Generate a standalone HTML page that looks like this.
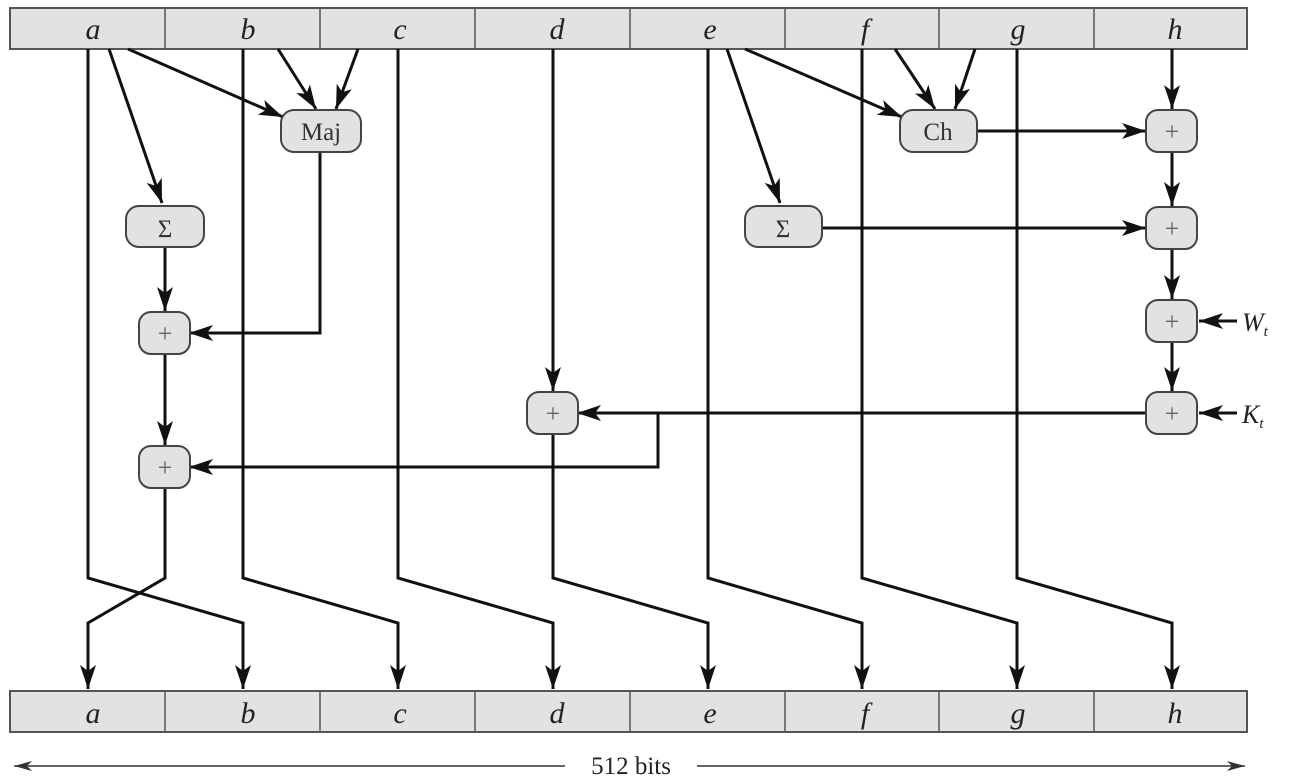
<!DOCTYPE html>
<html><head><style>
html,body{margin:0;padding:0;background:#fff;}
svg{display:block}
text{font-family:"Liberation Serif",serif;}
</style></head><body>
<svg width="1312" height="780" viewBox="0 0 1312 780" xmlns="http://www.w3.org/2000/svg">
<defs>
<marker id="a2" viewBox="0 0 24 16" markerWidth="24" markerHeight="16" refX="24" refY="8" orient="auto" markerUnits="userSpaceOnUse">
<path d="M0,0 L24,8 L0,16 L6,8 z" fill="#111"/>
</marker>
<marker id="a3" viewBox="0 0 18 10" markerWidth="18" markerHeight="10" refX="0" refY="5" orient="auto" markerUnits="userSpaceOnUse">
<path d="M18,0 L0,5 L18,10 L13,5 z" fill="#333"/>
</marker>
<marker id="a4" viewBox="0 0 18 10" markerWidth="18" markerHeight="10" refX="18" refY="5" orient="auto" markerUnits="userSpaceOnUse">
<path d="M0,0 L18,5 L0,10 L5,5 z" fill="#333"/>
</marker>
</defs>
<g stroke="#555" stroke-width="2" fill="#e2e2e2">
<rect x="10" y="8" width="1237" height="41"/>
<rect x="10" y="691" width="1237" height="41"/>
</g>
<g stroke="#555" stroke-width="1.5">
<line x1="165" y1="8" x2="165" y2="49"/><line x1="320" y1="8" x2="320" y2="49"/><line x1="475" y1="8" x2="475" y2="49"/><line x1="630" y1="8" x2="630" y2="49"/><line x1="785" y1="8" x2="785" y2="49"/><line x1="939" y1="8" x2="939" y2="49"/><line x1="1094" y1="8" x2="1094" y2="49"/>
<line x1="165" y1="691" x2="165" y2="732"/><line x1="320" y1="691" x2="320" y2="732"/><line x1="475" y1="691" x2="475" y2="732"/><line x1="630" y1="691" x2="630" y2="732"/><line x1="785" y1="691" x2="785" y2="732"/><line x1="939" y1="691" x2="939" y2="732"/><line x1="1094" y1="691" x2="1094" y2="732"/>
</g>
<g font-size="30" font-style="italic" fill="#222" text-anchor="middle">
<text x="93" y="39">a</text><text x="248" y="39">b</text><text x="400" y="39">c</text><text x="557" y="39">d</text><text x="710" y="39">e</text><text x="865" y="39">f</text><text x="1018" y="39">g</text><text x="1175" y="39">h</text>
<text x="93" y="723">a</text><text x="248" y="723">b</text><text x="400" y="723">c</text><text x="557" y="723">d</text><text x="710" y="723">e</text><text x="865" y="723">f</text><text x="1018" y="723">g</text><text x="1175" y="723">h</text>
</g>
<g stroke="#111" stroke-width="3" fill="none" stroke-linejoin="miter">
<polyline points="88,49 88,578 243,623 243,689" marker-end="url(#a2)"/>
<polyline points="243,49 243,578 398,623 398,689" marker-end="url(#a2)"/>
<polyline points="398,49 398,578 553,623 553,689" marker-end="url(#a2)"/>
<polyline points="553,434 553,578 708,623 708,689" marker-end="url(#a2)"/>
<polyline points="708,49 708,578 862,623 862,689" marker-end="url(#a2)"/>
<polyline points="862,49 862,578 1017,623 1017,689" marker-end="url(#a2)"/>
<polyline points="1017,49 1017,578 1172,623 1172,689" marker-end="url(#a2)"/>
<polyline points="165,488 165,578 88,623 88,689" marker-end="url(#a2)"/>
<line x1="553" y1="49" x2="553" y2="391" marker-end="url(#a2)"/>
<line x1="109" y1="49" x2="162" y2="203" marker-end="url(#a2)"/>
<line x1="128" y1="49" x2="283" y2="117" marker-end="url(#a2)"/>
<line x1="278" y1="49" x2="316" y2="109" marker-end="url(#a2)"/>
<line x1="358" y1="49" x2="336" y2="109" marker-end="url(#a2)"/>
<line x1="727" y1="49" x2="780" y2="203" marker-end="url(#a2)"/>
<line x1="745" y1="49" x2="902" y2="117" marker-end="url(#a2)"/>
<line x1="895" y1="49" x2="935" y2="109" marker-end="url(#a2)"/>
<line x1="975" y1="49" x2="955" y2="109" marker-end="url(#a2)"/>
<polyline points="320,152 320,333 189,333" marker-end="url(#a2)"/>
<line x1="165" y1="247" x2="165" y2="311" marker-end="url(#a2)"/>
<line x1="165" y1="355" x2="165" y2="445" marker-end="url(#a2)"/>
<line x1="1172" y1="49" x2="1172" y2="109" marker-end="url(#a2)"/>
<line x1="1172" y1="152" x2="1172" y2="206" marker-end="url(#a2)"/>
<line x1="1172" y1="249" x2="1172" y2="299" marker-end="url(#a2)"/>
<line x1="1172" y1="342" x2="1172" y2="391" marker-end="url(#a2)"/>
<line x1="977" y1="131" x2="1146" y2="131" marker-end="url(#a2)"/>
<line x1="822" y1="228" x2="1146" y2="228" marker-end="url(#a2)"/>
<line x1="1237" y1="321" x2="1199" y2="321" marker-end="url(#a2)"/>
<line x1="1237" y1="413" x2="1199" y2="413" marker-end="url(#a2)"/>
<line x1="1146" y1="413" x2="577" y2="413" marker-end="url(#a2)"/>
<polyline points="658,413 658,467 189,467" marker-end="url(#a2)"/>
</g>
<g stroke="#444" stroke-width="2" fill="#e2e2e2">
<rect x="281" y="110" width="80" height="42" rx="13"/>
<rect x="126" y="206" width="78" height="41" rx="13"/>
<rect x="900" y="110" width="77" height="42" rx="13"/>
<rect x="745" y="206" width="77" height="41" rx="13"/>
<rect x="139" y="312" width="51" height="42" rx="12"/>
<rect x="139" y="446" width="51" height="42" rx="12"/>
<rect x="527" y="392" width="51" height="42" rx="12"/>
<rect x="1146" y="110" width="51" height="42" rx="12"/>
<rect x="1146" y="207" width="51" height="42" rx="12"/>
<rect x="1146" y="300" width="51" height="42" rx="12"/>
<rect x="1146" y="392" width="51" height="42" rx="12"/>
</g>
<g font-size="25" fill="#333" text-anchor="middle">
<text x="321" y="140">Maj</text>
<text x="938" y="140">Ch</text>
<text x="165" y="237">Σ</text>
<text x="783" y="237">Σ</text>
</g>
<g font-size="26" fill="#666" text-anchor="middle">
<text x="165" y="342">+</text><text x="165" y="476">+</text><text x="553" y="422">+</text>
<text x="1172" y="140">+</text><text x="1172" y="237">+</text><text x="1172" y="330">+</text><text x="1172" y="422">+</text>
</g>
<g font-size="26" font-style="italic" fill="#222">
<text x="1242" y="331">W<tspan font-size="15" dy="5">t</tspan></text>
<text x="1242" y="423">K<tspan font-size="15" dy="5">t</tspan></text>
</g>
<g stroke="#333" stroke-width="1.5">
<line x1="14" y1="766" x2="565" y2="766" marker-start="url(#a3)"/>
<line x1="697" y1="766" x2="1245" y2="766" marker-end="url(#a4)"/>
</g>
<text x="631" y="774" font-size="25" fill="#222" text-anchor="middle">512 bits</text>
</svg>
</body></html>
